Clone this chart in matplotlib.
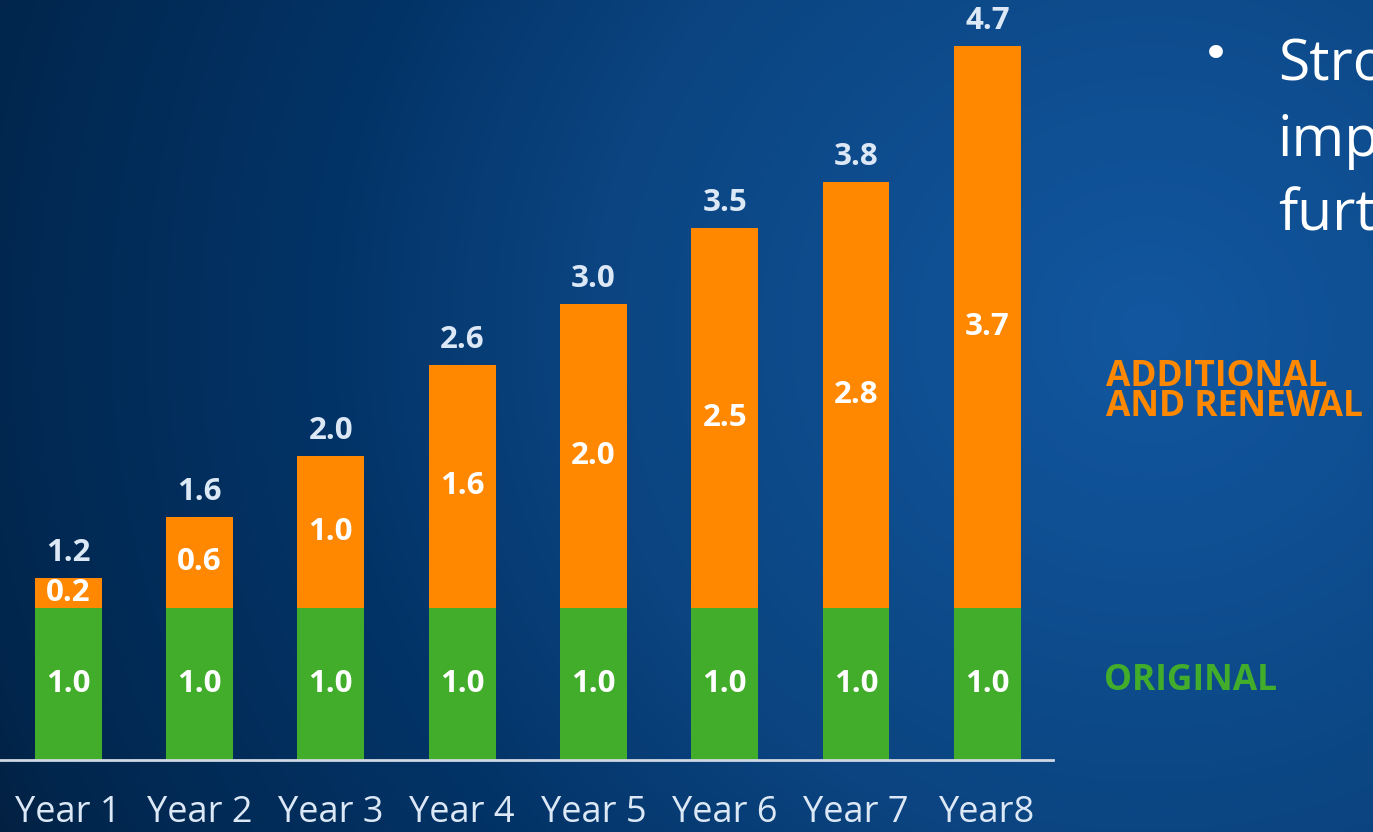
import numpy as np
import matplotlib
matplotlib.use("Agg")
import matplotlib.pyplot as plt

plt.rcParams['font.family'] = ['Open Sans', 'DejaVu Sans']

# Data
years = ["Year 1", "Year 2", "Year 3", "Year 4", "Year 5", "Year 6", "Year 7", "Year8"]
original = [1.0, 1.0, 1.0, 1.0, 1.0, 1.0, 1.0, 1.0]
additional = [0.2, 0.6, 1.0, 1.6, 2.0, 2.5, 2.8, 3.7]
totals = [1.2, 1.6, 2.0, 2.6, 3.0, 3.5, 3.8, 4.7]

GREEN = "#41ad2b"
ORANGE = "#ff8800"
LABEL = "#dce8f5"

W, H = 1373, 832
fig = plt.figure(figsize=(W / 100, H / 100), dpi=100)

# Radial blue background
bg = fig.add_axes([0, 0, 1, 1])
bg.set_axis_off()
yy, xx = np.mgrid[0:H, 0:W]
d = np.hypot((xx - 1150) / 1.0, (yy - 330) / 0.95)
stops = np.array([0, 390, 560, 815, 1194, 1300])
cols = np.array([[18, 87, 160], [13, 74, 138], [11, 68, 128],
                 [3, 52, 104], [1, 38, 77], [4, 30, 60]]) / 255.0
img = np.stack([np.interp(d, stops, cols[:, c]) for c in range(3)], axis=-1)
bg.imshow(img, extent=[0, W, H, 0], aspect="auto")
bg.set_xlim(0, W)
bg.set_ylim(H, 0)

# Bar chart
ax = fig.add_axes([0, 72 / H, 1053 / W, 760 / H])
ax.patch.set_alpha(0)
x = np.arange(len(years))
bw = 0.51
ax.bar(x, original, bw, color=GREEN, zorder=2)
ax.bar(x, additional, bw, bottom=original, color=ORANGE, zorder=2)

for xi, o, a, t in zip(x, original, additional, totals):
    ax.text(xi, o / 2, f"{o:.1f}", ha="center", va="center", color="white",
            fontsize=22.5, fontweight="bold", zorder=3)
    ax.text(xi, o + a / 2, f"{a:.1f}", ha="center", va="center", color="white",
            fontsize=22.5, fontweight="bold", zorder=3)
    ax.text(xi, t + 0.165, f"{t:.1f}", ha="center", va="center", color=LABEL,
            fontsize=22.5, fontweight="bold", zorder=3)

ax.set_xlim(-0.518, 7.50)
ax.set_ylim(0, 5.0)
for s in ["top", "right", "left"]:
    ax.spines[s].set_visible(False)
ax.spines["bottom"].set_color("#d0d8e4")
ax.spines["bottom"].set_linewidth(2)
ax.set_yticks([])
ax.set_xticks(x)
ax.set_xticklabels(years, color=LABEL, fontsize=26)
ax.tick_params(axis="x", length=0, pad=25)

# Side annotations
fig.text(1106 / W, 1 - 392 / H, "ADDITIONAL\nAND RENEWAL", color=ORANGE,
         fontsize=25.5, fontweight="bold", ha="left", va="center", linespacing=0.76)
fig.text(1104 / W, 1 - 681 / H, "ORIGINAL", color=GREEN,
         fontsize=25.5, fontweight="bold", ha="left", va="center")

fig.text(1216 / W, 1 - 57 / H, "\u2022", color="white", fontsize=34,
         ha="center", va="center", family="DejaVu Sans")
for i, line in enumerate(["Stro", "imp", "furt"]):
    fig.text(1278 / W, 1 - (66 + 75 * i) / H, line, color="white",
             fontsize=41, ha="left", va="center")

fig.savefig("out.png", dpi=100)
